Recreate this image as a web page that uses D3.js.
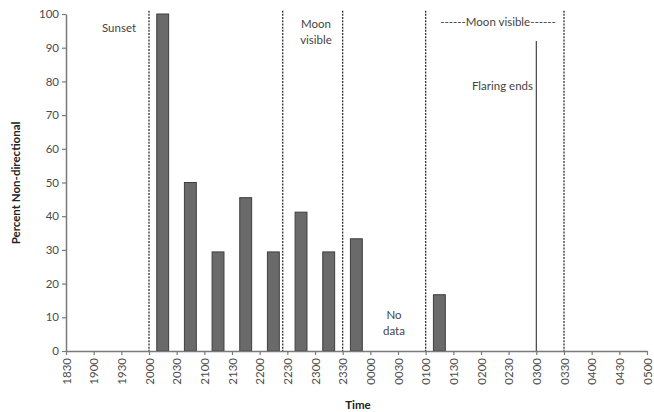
<!DOCTYPE html>
<html><head><meta charset="utf-8">
<script src="https://cdn.jsdelivr.net/npm/d3@7"></script>
<style>body{margin:0;background:#fff}svg text{font-family:Lato,"Open Sans",sans-serif}</style>
</head><body><svg id="c" width="654" height="412"></svg>
<script>
const tickLabels=["1830","1900","1930","2000","2030","2100","2130","2200","2230","2300","2330","0000","0030","0100","0130","0200","0230","0300","0330","0400","0430","0500"];
const barBins=["2000","2030","2100","2130","2200","2230","2300","2330","0000","0030","0100"];
const barValues=[100,50,29.4,45.5,29.4,41.2,29.4,33.3,0,0,16.7];
const yTicks=[0,10,20,30,40,50,60,70,80,90,100];
const dottedLines=["2000","2225","2330","0100","0330"];
const flaringTime="0300", flaringValue=92;

function idx(t){let h=+t.slice(0,2),m=+t.slice(2);let mins=h*60+m;if(h<12)mins+=1440;return (mins-(18*60+30))/30;}

const svg=d3.select("#c");
const L=66,R=647,T=14,B=351;
const x=d3.scaleLinear().domain([0,tickLabels.length-1]).range([L,R]);
const y=d3.scaleLinear().domain([0,100]).range([B,T]);
const axisCol="#7a7a7a", textCol="#4a4a4a";

// bars
svg.selectAll("rect.bar").data(barBins.map((b,i)=>({b,v:barValues[i]})).filter(d=>d.v>0)).enter().append("rect")
 .attr("x",d=>x(idx(d.b)+0.28)).attr("width",d=>x(idx(d.b)+0.71)-x(idx(d.b)+0.28))
 .attr("y",d=>y(d.v)).attr("height",d=>y(0)-y(d.v))
 .attr("fill","#6a6a6a").attr("stroke","#3e3e3e").attr("stroke-width",1);

// dotted lines
svg.selectAll("line.dot").data(dottedLines).enter().append("line")
 .attr("x1",d=>x(idx(d))).attr("x2",d=>x(idx(d))).attr("y1",y(101)).attr("y2",B)
 .attr("stroke","#333").attr("stroke-width",1.3).attr("stroke-dasharray","2,1.2");
// flaring line
svg.append("line").attr("x1",x(idx(flaringTime))).attr("x2",x(idx(flaringTime)))
 .attr("y1",y(flaringValue)).attr("y2",B).attr("stroke","#444").attr("stroke-width",1.2);

// axes
const yAxis=svg.append("g").attr("transform",`translate(${L},0)`).call(d3.axisLeft(y).tickValues(yTicks).tickSize(4).tickSizeOuter(0));
yAxis.select(".domain").attr("stroke",axisCol).attr("stroke-width",1.5);
yAxis.selectAll(".tick line").attr("stroke",axisCol).attr("stroke-width",1.2);
yAxis.selectAll("text").attr("fill",textCol).attr("font-size","11.5px").attr("x",-7);

const xAxis=svg.append("g").attr("transform",`translate(0,${B})`).call(d3.axisBottom(x).tickValues(d3.range(tickLabels.length)).tickFormat(i=>tickLabels[i]).tickSize(4).tickSizeOuter(0));
xAxis.select(".domain").attr("stroke",axisCol).attr("stroke-width",1.5);
xAxis.selectAll(".tick line").attr("stroke",axisCol).attr("stroke-width",1.2);
xAxis.selectAll("text").attr("fill",textCol).attr("font-size","11.5px")
 .attr("transform","rotate(-90)").attr("x",-7).attr("y",0).attr("dy","0.35em").attr("text-anchor","end");

// annotations
const ann=(t,xx,yy,anchor="middle")=>svg.append("text").attr("x",xx).attr("y",yy).attr("text-anchor",anchor).attr("fill","#444").attr("font-size","11.5px").text(t);
ann("Sunset",119,32);
ann("Moon",316,28);ann("visible",316,44);
ann("------Moon visible------",498,26);
ann("Flaring ends",533,90,"end");
ann("No",394,319);ann("data",394,335);

svg.append("text").attr("transform","translate(20,183) rotate(-90)").attr("text-anchor","middle").attr("font-size","11.5px").attr("font-weight","bold").attr("fill","#222").text("Percent Non-directional");
svg.append("text").attr("x",358).attr("y",409).attr("text-anchor","middle").attr("font-size","11.5px").attr("font-weight","bold").attr("fill","#222").text("Time");
</script></body></html>
